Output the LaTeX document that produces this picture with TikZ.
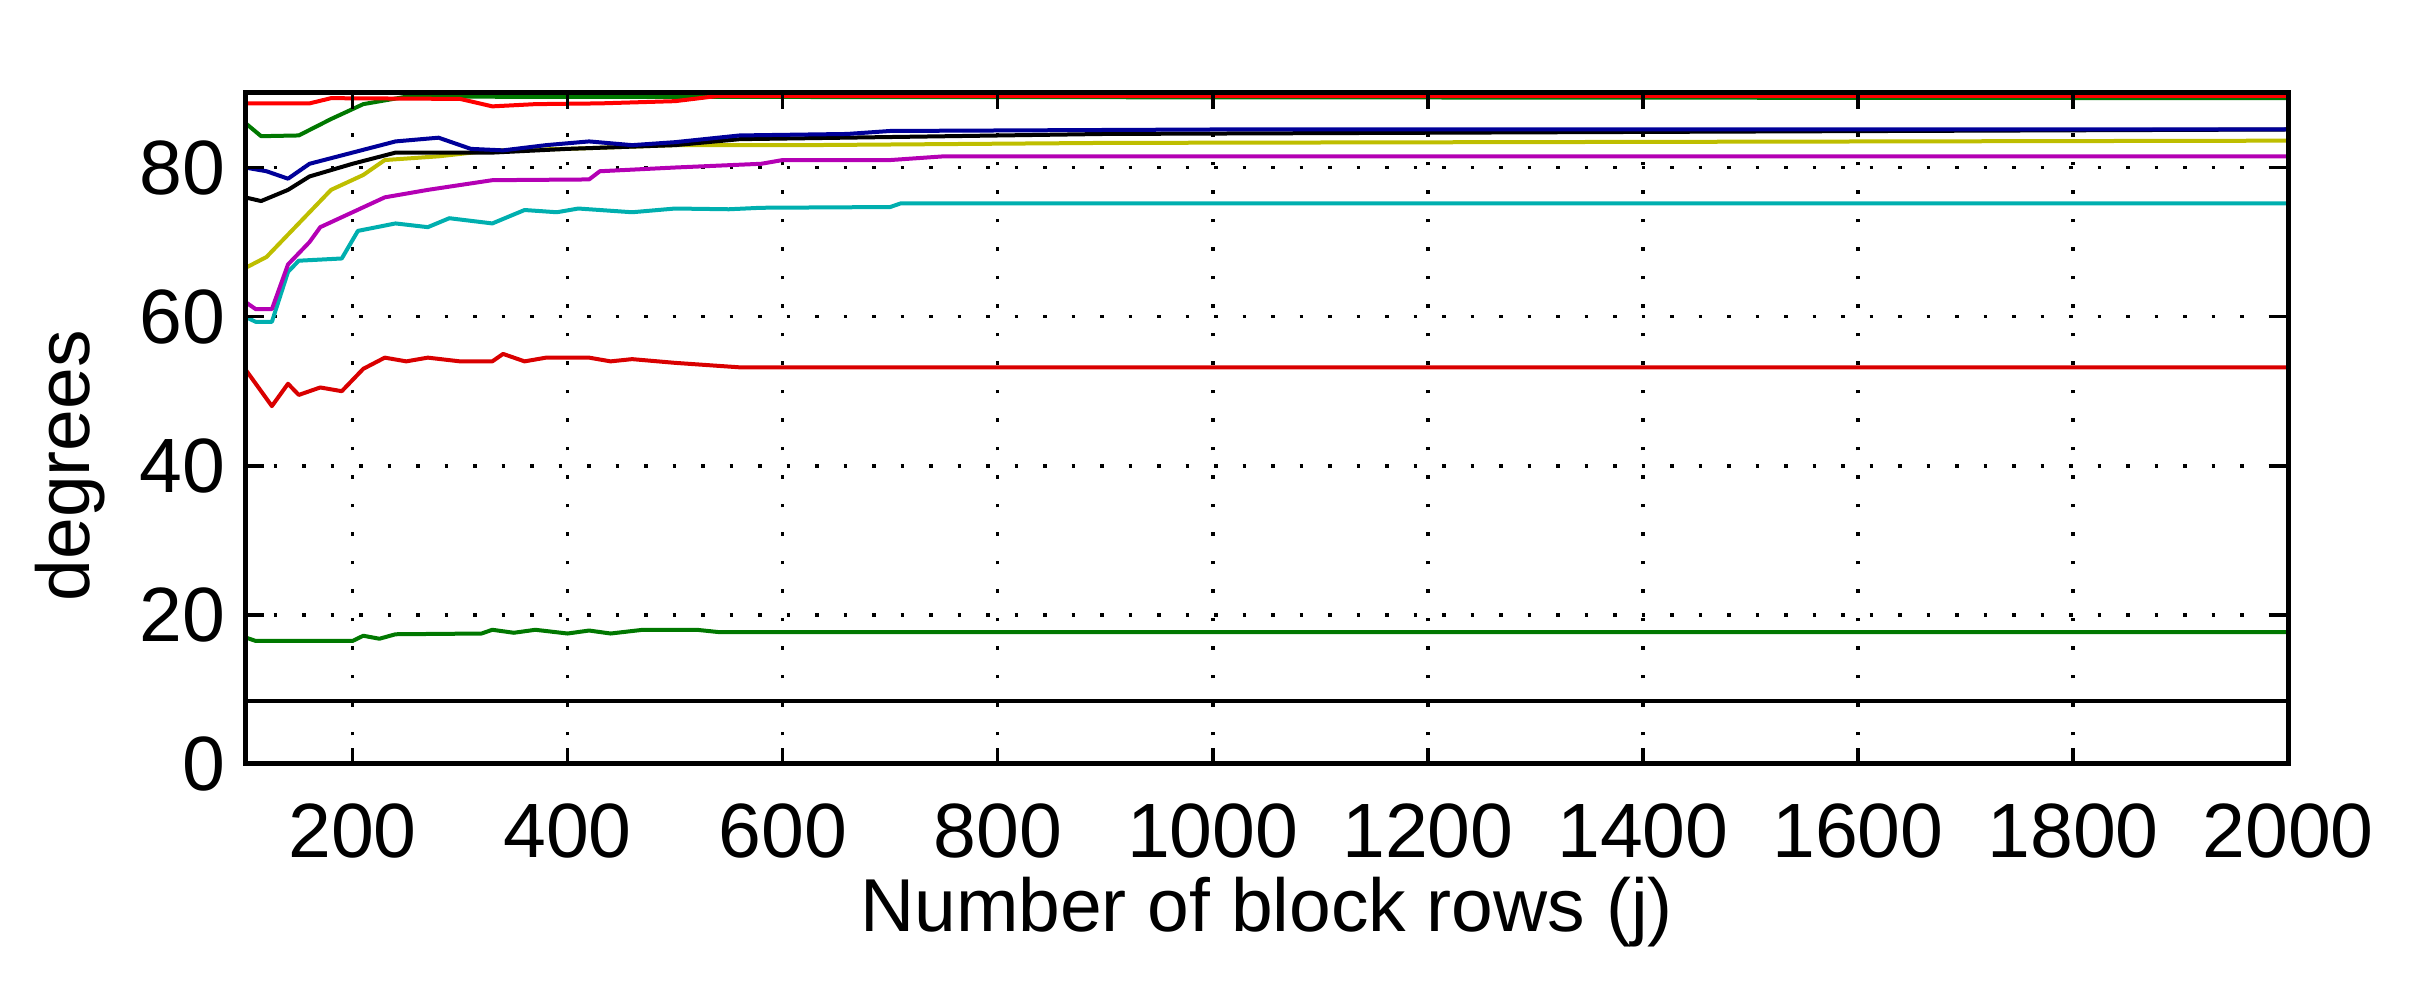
\documentclass[tikz,border=0pt]{standalone}
\usepackage{fontspec}
\setmainfont{Liberation Sans}
\begin{document}
\begin{tikzpicture}[x=1pt,y=1pt,
  crv/.style={line width=4pt,line join=round},
  lbl/.style={font=\fontsize{77}{77}\selectfont},
  grd/.style={line width=3.5pt,dash pattern=on 3.5pt off 25pt}]
\useasboundingbox (0,0) rectangle (2428,983);
\begin{scope}[shift={(245,219)},x=1.0753pt,y=7.456pt]
% grid
\foreach \j in {200,400,...,1800}{\draw[grd] (\j-100,0) -- (\j-100,90);}
\foreach \d in {20,40,...,80}{\draw[grd] (0,\d) -- (1900,\d);}
% curves
\definecolor{cgreen}{RGB}{0,120,0}
\definecolor{cyell}{RGB}{190,190,0}
\definecolor{cmag}{RGB}{180,0,180}
\definecolor{ccyan}{RGB}{0,175,175}
\draw[crv,black] (0,8.4) -- (1900,8.4);
\draw[crv,cgreen] (0,17) -- (10,16.5) -- (100,16.5) -- (110,17.2) -- (125,16.8) -- (140,17.4) -- (220,17.5) -- (230,18) -- (250,17.6) -- (270,18) -- (300,17.5) -- (320,17.9) -- (340,17.5) -- (370,18) -- (420,18) -- (440,17.7) -- (1900,17.7);
\draw[crv,red!85!black] (0,53) -- (15,50) -- (25,48) -- (40,51) -- (50,49.5) -- (70,50.5) -- (90,50) -- (110,53) -- (130,54.5) -- (150,54) -- (170,54.5) -- (200,54) -- (230,54) -- (240,55) -- (260,54) -- (280,54.5) -- (320,54.5) -- (340,54) -- (360,54.3) -- (400,53.8) -- (430,53.5) -- (460,53.2) -- (1900,53.2);
\draw[crv,ccyan] (0,60) -- (10,59.3) -- (25,59.3) -- (40,66) -- (50,67.5) -- (90,67.8) -- (105,71.5) -- (140,72.5) -- (170,72) -- (190,73.2) -- (230,72.5) -- (260,74.3) -- (290,74) -- (310,74.5) -- (360,74) -- (400,74.5) -- (450,74.4) -- (480,74.6) -- (600,74.7) -- (610,75.2) -- (1900,75.2);
\draw[crv,cmag] (0,62) -- (10,61) -- (25,61) -- (40,67) -- (60,70) -- (70,72) -- (100,74) -- (130,76) -- (170,77) -- (230,78.3) -- (320,78.4) -- (330,79.5) -- (400,80) -- (480,80.5) -- (500,81) -- (600,81) -- (650,81.5) -- (800,81.5) -- (900,81.5) -- (1900,81.5);
\draw[crv,cyell] (0,66.5) -- (20,68) -- (40,71) -- (60,74) -- (80,77) -- (110,79) -- (130,81) -- (180,81.5) -- (230,82.3) -- (300,82.5) -- (400,83) -- (520,83) -- (800,83.3) -- (1900,83.6);
\draw[crv,black] (0,76) -- (15,75.5) -- (40,77) -- (60,78.8) -- (100,80.5) -- (140,82) -- (230,82) -- (300,82.5) -- (400,83) -- (460,83.8) -- (800,84.5) -- (1900,85.1);
\draw[crv,blue!60!black] (0,80) -- (20,79.5) -- (40,78.5) -- (60,80.5) -- (100,82) -- (140,83.5) -- (180,84) -- (210,82.5) -- (240,82.3) -- (280,83) -- (320,83.5) -- (360,83) -- (400,83.4) -- (460,84.3) -- (560,84.5) -- (600,84.9) -- (900,85.1) -- (1900,85.1);
\draw[crv,cgreen] (0,86) -- (15,84.2) -- (50,84.3) -- (80,86.5) -- (110,88.5) -- (150,89.5) -- (1900,89.3);
\draw[crv,red] (0,88.6) -- (60,88.6) -- (80,89.3) -- (200,89.2) -- (230,88.2) -- (270,88.5) -- (330,88.6) -- (400,88.9) -- (440,89.6) -- (1900,89.6);
% frame & ticks
\foreach \j in {200,400,...,2000}{\draw[line width=3.5pt] (\j-100,0) -- (\j-100,2.2); \draw[line width=3.5pt] (\j-100,90) -- (\j-100,87.8);
  \node[lbl] (xt\j) at (\j-100,-9) {\j};}
\foreach \d in {0,20,...,80}{\draw[line width=3.5pt] (0,\d) -- (18,\d); \draw[line width=3.5pt] (1900,\d) -- (1882,\d);
  \node[lbl,anchor=east] (yt\d) at (-15,\d) {\d};}
\draw[line width=5pt] (0,0) rectangle (1900,90);
\node[lbl,font=\fontsize{75}{75}\selectfont] (xl) at (950,-19.8) {Number of block rows (j)};
\node[lbl,font=\fontsize{75}{75}\selectfont,rotate=90] (yl) at (-163,40) {degrees};
\end{scope}
\end{tikzpicture}
\end{document}
